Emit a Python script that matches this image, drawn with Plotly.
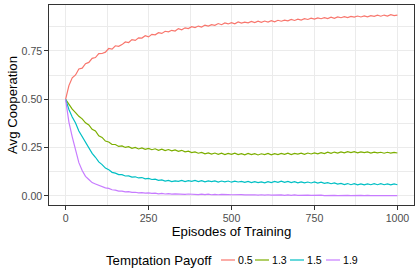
import plotly.graph_objects as go

episodes = list(range(0, 1001, 10))

payoff_labels = ["0.5", "1.3", "1.5", "1.9"]
colors = ["#F8766D", "#7CAE00", "#00BFC4", "#C77CFF"]
legend_title = "Temptation Payoff"

coop_05 = [0.500, 0.571, 0.611, 0.626, 0.657, 0.661, 0.684, 0.691, 0.712, 0.716,
           0.736, 0.737, 0.744, 0.763, 0.760, 0.777, 0.774, 0.783, 0.797, 0.794,
           0.809, 0.805, 0.818, 0.817, 0.829, 0.823, 0.836, 0.834, 0.845, 0.841,
           0.852, 0.849, 0.857, 0.853, 0.866, 0.860, 0.870, 0.866, 0.876, 0.871,
           0.879, 0.874, 0.884, 0.879, 0.886, 0.883, 0.892, 0.886, 0.895, 0.890,
           0.897, 0.891, 0.900, 0.894, 0.899, 0.896, 0.903, 0.897, 0.904, 0.898,
           0.905, 0.900, 0.907, 0.901, 0.909, 0.904, 0.910, 0.906, 0.913, 0.908,
           0.915, 0.910, 0.917, 0.913, 0.920, 0.915, 0.921, 0.917, 0.923, 0.918,
           0.925, 0.919, 0.926, 0.922, 0.928, 0.923, 0.929, 0.925, 0.931, 0.926,
           0.932, 0.927, 0.933, 0.929, 0.935, 0.930, 0.936, 0.931, 0.938, 0.933,
           0.936]

coop_13 = [0.500, 0.474, 0.449, 0.431, 0.412, 0.399, 0.378, 0.367, 0.345, 0.336,
           0.311, 0.303, 0.284, 0.279, 0.266, 0.266, 0.256, 0.259, 0.251, 0.255,
           0.246, 0.251, 0.243, 0.248, 0.241, 0.246, 0.239, 0.244, 0.236, 0.242,
           0.235, 0.240, 0.233, 0.238, 0.231, 0.236, 0.228, 0.232, 0.224, 0.228,
           0.221, 0.225, 0.218, 0.223, 0.216, 0.222, 0.215, 0.221, 0.214, 0.220,
           0.215, 0.221, 0.214, 0.219, 0.213, 0.220, 0.214, 0.219, 0.212, 0.218,
           0.214, 0.220, 0.213, 0.219, 0.214, 0.220, 0.215, 0.221, 0.214, 0.220,
           0.216, 0.221, 0.215, 0.222, 0.217, 0.223, 0.218, 0.224, 0.219, 0.226,
           0.220, 0.227, 0.222, 0.228, 0.223, 0.229, 0.224, 0.229, 0.223, 0.228,
           0.224, 0.228, 0.222, 0.227, 0.223, 0.226, 0.221, 0.226, 0.222, 0.225,
           0.222]

coop_15 = [0.500, 0.447, 0.408, 0.377, 0.336, 0.307, 0.272, 0.248, 0.220, 0.200,
           0.176, 0.162, 0.144, 0.136, 0.122, 0.118, 0.110, 0.110, 0.103, 0.104,
           0.097, 0.099, 0.093, 0.095, 0.088, 0.091, 0.085, 0.087, 0.081, 0.083,
           0.077, 0.080, 0.074, 0.078, 0.075, 0.080, 0.074, 0.079, 0.075, 0.080,
           0.074, 0.079, 0.073, 0.078, 0.074, 0.078, 0.072, 0.077, 0.073, 0.077,
           0.071, 0.076, 0.072, 0.075, 0.070, 0.075, 0.069, 0.074, 0.069, 0.073,
           0.068, 0.074, 0.069, 0.075, 0.070, 0.076, 0.070, 0.075, 0.069, 0.074,
           0.068, 0.073, 0.068, 0.072, 0.067, 0.072, 0.066, 0.071, 0.065, 0.069,
           0.063, 0.067, 0.061, 0.065, 0.059, 0.064, 0.058, 0.063, 0.057, 0.062,
           0.057, 0.062, 0.058, 0.063, 0.058, 0.063, 0.058, 0.062, 0.057, 0.062,
           0.058]

coop_19 = [0.500, 0.382, 0.306, 0.233, 0.172, 0.131, 0.101, 0.085, 0.069, 0.062,
           0.054, 0.050, 0.042, 0.039, 0.032, 0.030, 0.025, 0.025, 0.021, 0.022,
           0.018, 0.019, 0.016, 0.017, 0.014, 0.016, 0.013, 0.014, 0.011, 0.013,
           0.010, 0.012, 0.009, 0.011, 0.009, 0.010, 0.008, 0.010, 0.008, 0.009,
           0.007, 0.009, 0.007, 0.009, 0.006, 0.008, 0.006, 0.008, 0.006, 0.007,
           0.006, 0.007, 0.005, 0.007, 0.005, 0.006, 0.005, 0.006, 0.004, 0.006,
           0.004, 0.006, 0.004, 0.005, 0.004, 0.005, 0.003, 0.005, 0.003, 0.005,
           0.003, 0.004, 0.003, 0.004, 0.003, 0.004, 0.002, 0.004, 0.002, 0.003,
           0.002, 0.003, 0.002, 0.003, 0.002, 0.003, 0.002, 0.003, 0.001, 0.003,
           0.001, 0.003, 0.001, 0.002, 0.001, 0.002, 0.001, 0.002, 0.001, 0.002,
           0.002]

series = [coop_05, coop_13, coop_15, coop_19]

x_ticks = [0, 250, 500, 750, 1000]
y_ticks = [0.0, 0.25, 0.5, 0.75]

FONT = "Liberation Sans, Arial, sans-serif"
TITLE_SIZE = 13.2
TICK_SIZE = 10.6

W, H = 420, 280
ML, MR, MT, MB = 49, 6, 5, 75
PW, PH = W - ML - MR, H - MT - MB


def px_to_paper_x(px):
    return (px - ML) / PW


def px_to_paper_y(py):
    return (H - MB - py) / PH


fig = go.Figure()
for lab, col, vals in zip(payoff_labels, colors, series):
    fig.add_trace(go.Scatter(x=episodes, y=vals, mode="lines", name=lab,
                             line=dict(color=col, width=1.2), showlegend=False))

axis_common = dict(
    showline=True, linecolor="#333333", linewidth=1, mirror=True,
    ticks="outside", ticklen=3.7, tickcolor="#333333", tickwidth=1,
    showgrid=True, gridcolor="#EBEBEB", gridwidth=1.1,
    zeroline=False,
    tickfont=dict(family=FONT, size=TICK_SIZE, color="#4D4D4D"),
)

fig.update_xaxes(
    **axis_common,
    range=[-50, 1050], tickmode="array", tickvals=x_ticks,
    ticktext=[str(v) for v in x_ticks],
    minor=dict(showgrid=True, gridcolor="#EBEBEB", gridwidth=0.55,
               tickmode="array", tickvals=[125, 375, 625, 875], ticks=""),
    title=dict(text="Episodes of Training", standoff=0,
               font=dict(family=FONT, size=TITLE_SIZE, color="black")),
    automargin=False,
)
fig.update_yaxes(
    **axis_common,
    range=[-0.047, 0.988], tickmode="array", tickvals=y_ticks,
    ticktext=["%.2f" % v for v in y_ticks],
    minor=dict(showgrid=True, gridcolor="#EBEBEB", gridwidth=0.55,
               tickmode="array", tickvals=[0.125, 0.375, 0.625, 0.875], ticks=""),
    title=dict(text="Avg Cooperation", standoff=0,
               font=dict(family=FONT, size=TITLE_SIZE, color="black")),
    automargin=False,
)

# legend drawn along the bottom (ggplot style)
leg_y = px_to_paper_y(260)
annotations = [dict(text=legend_title, xref="paper", yref="paper",
                    x=px_to_paper_x(104), y=leg_y, xanchor="left", yanchor="middle",
                    showarrow=False, font=dict(family=FONT, size=TITLE_SIZE, color="black"))]
shapes = []
key_starts = [221, 255, 290, 326]
for lab, col, ks in zip(payoff_labels, colors, key_starts):
    shapes.append(dict(type="line", xref="paper", yref="paper",
                       x0=px_to_paper_x(ks), x1=px_to_paper_x(ks + 14),
                       y0=leg_y, y1=leg_y, line=dict(color=col, width=1.2)))
    annotations.append(dict(text=lab, xref="paper", yref="paper",
                            x=px_to_paper_x(ks + 15), y=leg_y,
                            xanchor="left", yanchor="middle", showarrow=False,
                            font=dict(family=FONT, size=TICK_SIZE, color="black")))

fig.update_layout(
    width=W, height=H,
    margin=dict(l=ML, r=MR, t=MT, b=MB, autoexpand=False),
    plot_bgcolor="white", paper_bgcolor="white",
    font=dict(family=FONT),
    showlegend=False,
    annotations=annotations,
    shapes=shapes,
)

fig.write_html("out.html",
               config={"displayModeBar": False},
               post_script="document.body.style.margin='0';document.body.style.padding='0';")
